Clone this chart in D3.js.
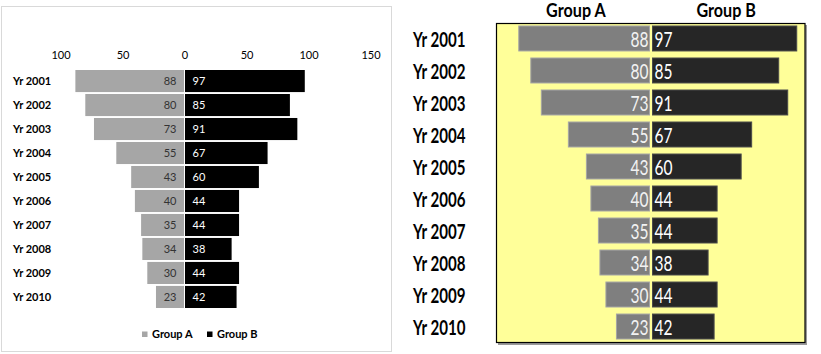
<!DOCTYPE html>
<html><head><meta charset="utf-8">
<script src="https://cdn.jsdelivr.net/npm/d3@7"></script>
<style>body{margin:0;background:#fff}svg{display:block}text{font-family:Lato,"Open Sans",sans-serif}</style>
</head><body><svg id="c" width="821" height="354"></svg>
<script>
const years = ["Yr 2001","Yr 2002","Yr 2003","Yr 2004","Yr 2005","Yr 2006","Yr 2007","Yr 2008","Yr 2009","Yr 2010"];
const groupA = [88,80,73,55,43,40,35,34,30,23];
const groupB = [97,85,91,67,60,44,44,38,44,42];
const seriesNames = ["Group A","Group B"];
const axisTicks = [-100,-50,0,50,100,150];

const svg = d3.select("#c");

// ---------- Left chart ----------
const L = svg.append("g");
L.append("rect").attr("x",1.5).attr("y",6.5).attr("width",390).attr("height",345)
  .attr("fill","#fff").attr("stroke","#d9d9d9");
const xL = d3.scaleLinear().domain([-100,150]).range([60.5,370.5]);
const yL = d3.scaleBand().domain(years).range([70,308]).paddingInner(0.08);
const axL = d3.axisTop(xL).tickValues(axisTicks).tickFormat(d=>Math.abs(d)).tickSize(0).tickPadding(0);
L.append("g").attr("transform","translate(0,58.5)").call(axL)
  .call(g=>g.select(".domain").remove())
  .call(g=>g.selectAll("text").attr("font-family","Lato").attr("font-size","11px").attr("fill","#000"));
L.selectAll(".ba").data(groupA).join("rect")
  .attr("x",d=>xL(-d)).attr("y",(d,i)=>yL(years[i]))
  .attr("width",d=>xL(0)-0.5-xL(-d)).attr("height",yL.bandwidth()).attr("fill","#a6a6a6");
L.selectAll(".bb").data(groupB).join("rect")
  .attr("x",xL(0)+0.5).attr("y",(d,i)=>yL(years[i]))
  .attr("width",d=>xL(d)-xL(0)-0.5).attr("height",yL.bandwidth()).attr("fill","#000");
L.selectAll(".la").data(groupA).join("text")
  .attr("x",xL(0)-8).attr("y",(d,i)=>yL(years[i])+yL.bandwidth()/2).attr("dy","0.36em")
  .attr("text-anchor","end").attr("font-size","11px").attr("fill","#333").text(d=>d);
L.selectAll(".lb").data(groupB).join("text")
  .attr("x",xL(0)+8).attr("y",(d,i)=>yL(years[i])+yL.bandwidth()/2).attr("dy","0.36em")
  .attr("font-size","11px").attr("fill","#fff").text(d=>d);
L.selectAll(".ry").data(years).join("text")
  .attr("x",13).attr("y",d=>yL(d)+yL.bandwidth()/2).attr("dy","0.34em")
  .attr("font-size","11px").attr("font-weight","bold").attr("fill","#000").text(d=>d);
// legend
const legX = [142,207], legC = ["#a6a6a6","#000"];
seriesNames.forEach((s,i)=>{
  L.append("rect").attr("x",legX[i]).attr("y",331.5).attr("width",5.5).attr("height",5.5).attr("fill",legC[i]);
  L.append("text").attr("x",legX[i]+10).attr("y",334.5).attr("dy","0.36em")
    .attr("font-size","11px").attr("font-weight","bold").attr("fill","#000").text(s);
});

// ---------- Right chart ----------
const R = svg.append("g");
const xR = d3.scaleLinear().domain([-102.5,102.5]).range([497,805]);
const yR = d3.scaleBand().domain(years).range([23.5,341.5]).paddingInner(0.22).paddingOuter(0.078);
function ctext(g,x,y,sx,size,weight,fill,anchor,txt){
  g.append("g").attr("transform",`translate(${x},${y}) scale(${sx},1)`)
   .append("text").attr("text-anchor",anchor).attr("dy","0.36em")
   .attr("font-size",size+"px").attr("font-weight",weight).attr("fill",fill).text(txt);
}
// box shadow + box
R.append("rect").attr("x",498).attr("y",25).attr("width",309).attr("height",320).attr("fill","#9a9a9a");
R.append("rect").attr("x",496.5).attr("y",23.5).attr("width",308.5).attr("height",319)
  .attr("fill","#ffff99").attr("stroke","#000").attr("stroke-width",1.2);
R.selectAll(".ra").data(groupA).join("rect")
  .attr("x",d=>xR(-d)).attr("y",(d,i)=>yR(years[i]))
  .attr("width",d=>xR(0)-1.5-xR(-d)).attr("height",yR.bandwidth())
  .attr("fill","#7f7f7f").attr("stroke","#a5a5a5").attr("stroke-width",1);
R.selectAll(".rb").data(groupB).join("rect")
  .attr("x",xR(0)+1.5).attr("y",(d,i)=>yR(years[i]))
  .attr("width",d=>xR(d)-xR(0)-1.5).attr("height",yR.bandwidth())
  .attr("fill","#262626").attr("stroke","#4a4a4a").attr("stroke-width",1);
groupA.forEach((d,i)=>ctext(R,xR(0)-2.5,yR(years[i])+yR.bandwidth()/2+1,0.74,21,"normal","#f2f2f2","end",d));
groupB.forEach((d,i)=>ctext(R,xR(0)+3.5,yR(years[i])+yR.bandwidth()/2+1,0.74,21,"normal","#fff","start",d));
years.forEach(d=>ctext(R,413,yR(d)+yR.bandwidth()/2+1,0.72,21,"bold","#000","start",d));
ctext(R,xR(-50),10,0.85,19,"bold","#000","middle",seriesNames[0]);
ctext(R,xR(50),10,0.85,19,"bold","#000","middle",seriesNames[1]);
</script></body></html>
